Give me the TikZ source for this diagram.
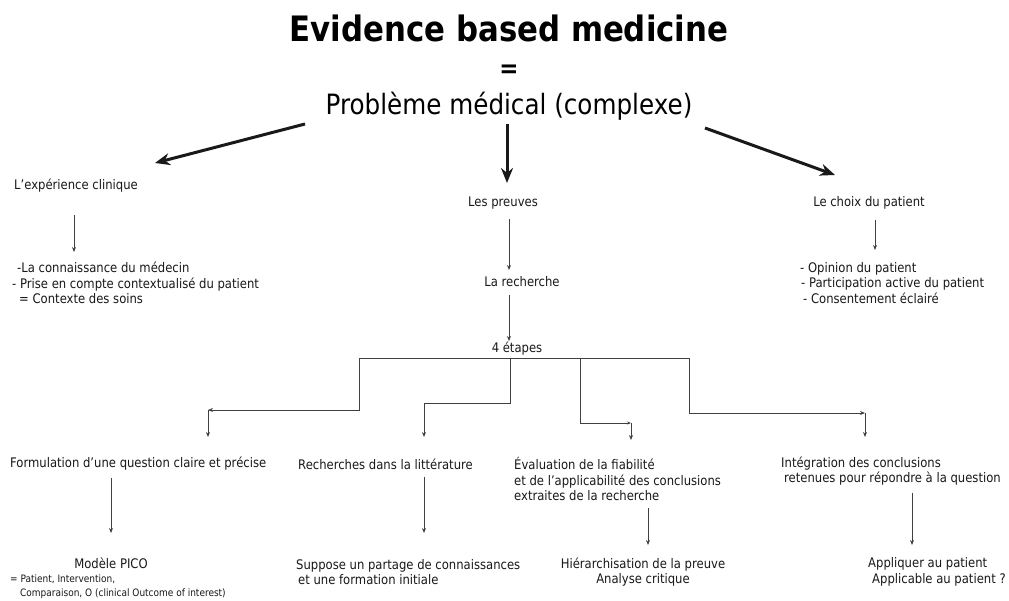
\documentclass[tikz,border=0pt]{standalone}
\usepackage{fontspec}
\setmainfont{DejaVu Sans}[FakeStretch=0.88]
\usetikzlibrary{arrows.meta,positioning}

\begin{document}
\begin{tikzpicture}[x=1pt,y=-1pt,
    txt/.style={inner sep=0pt, font=\fontsize{13.2}{15.5}\selectfont, text=black!90, align=left},
    small/.style={inner sep=0pt, font=\fontsize{10.2}{14}\selectfont, text=black!90, align=left},
    bigarrow/.style={-{Stealth[length=15pt,width=12pt]}, line width=3pt, black!90},
    thinarrow/.style={-{Stealth[length=5pt,width=4pt]}, line width=0.9pt, black!75},
    tree/.style={line width=0.9pt, black!75}
]
\useasboundingbox[fill=white] (0,0) rectangle (1009,600);

% Titre
\node[inner sep=0pt, font=\fontsize{35}{40}\selectfont\bfseries] (ebm) at (509,28) {Evidence based medicine};
\node[inner sep=0pt, font=\fontsize{26}{30}\selectfont\bfseries] (egal) at (509,71) {=};
\node[inner sep=0pt, font=\fontsize{28}{30}\selectfont] (prob) at (509,106) {Problème médical (complexe)};

% Trois piliers
\node[txt, anchor=west] (exp) at (14,186) {L’expérience clinique};
\node[txt] (preuves) at (503,203) {Les preuves};
\node[txt] (choix) at (869,203) {Le choix du patient};

\coordinate (pl) at (305,124);
\coordinate (pm) at (507,124);
\coordinate (pr) at (705,128);
\draw[bigarrow] (pl) -- (155,163);
\draw[bigarrow] (pm) -- (507,183);
\draw[bigarrow] (pr) -- (835,175);

\node[txt, anchor=west] (connais) at (12,283) {\hspace{5pt}-La connaissance du médecin\\- Prise en compte contextualisé du patient\\\hspace{7pt}= Contexte des soins};
\node[txt] (recherche) at (522,282) {La recherche};
\node[txt, anchor=west] (opinion) at (800,283) {- Opinion du patient\\\hspace{1pt}- Participation active du patient\\\hspace{3pt}- Consentement éclairé};

\draw[thinarrow] (exp.south -| 74,0) ++(0,22) -- (74,252);
\draw[thinarrow] (preuves.south -| 509,0) ++(0,10) -- (509,270);
\draw[thinarrow] (choix.south -| 875,0) ++(0,10) -- (875,250);

\node[txt] (etapes) at (517,349) {4 étapes};
\draw[thinarrow] (recherche.south -| 509,0) ++(0,8) -- (509,341);

% Arbre des 4 etapes
\coordinate (hub) at (510,358);
\coordinate (c1) at (208,410);
\coordinate (c2) at (424,403);
\coordinate (c3) at (631,423);
\coordinate (c4) at (865,413);
\draw[tree, -{Stealth[length=5pt,width=4pt]}] (hub) -- (359,358) -- (359,410) -- (c1);
\draw[tree] (hub) -- (510,403) -- (c2);
\draw[tree, -{Stealth[length=4pt,width=3pt]}] (hub) -- (580,358) -- (580,423) -- (c3);
\draw[tree, -{Stealth[length=5pt,width=4pt]}] (580,358) -- (689,358) -- (689,413) -- (c4);
\draw[thinarrow] (c1) -- ++(0,27);
\draw[thinarrow] (c2) -- ++(0,34);
\draw[thinarrow] (c3) -- ++(0,17);
\draw[thinarrow] (c4) -- ++(0,24);

% Etapes
\node[txt, anchor=west] (formul) at (10,464) {Formulation d’une question claire et précise};
\node[txt, anchor=west] (litt) at (298,464) {Recherches dans la littérature};
\node[txt, anchor=west] (eval) at (514,479) {Évaluation de la fiabilité\\et de l’applicabilité des conclusions\\extraites de la recherche};
\node[txt, anchor=west] (integ) at (781,471) {Intégration des conclusions\\\hspace{3pt}retenues pour répondre à la question};

\node[txt] (pico) at (111,563) {Modèle PICO};
\node[small, anchor=west] (picodef) at (10,587) {= Patient, Intervention,\\\hspace{10pt}Comparaison, O (clinical Outcome of interest)};
\node[txt, anchor=west] (suppose) at (296,572) {Suppose un partage de connaissances\\\hspace{2pt}et une formation initiale};
\node[txt, align=center] (hier) at (643,572) {Hiérarchisation de la preuve\\Analyse critique};
\node[txt, anchor=west] (appl) at (868,572) {Appliquer au patient\\\hspace{4pt}Applicable au patient ?};

\draw[thinarrow] (formul.south -| 111,0) ++(0,7) -- (111,533);
\draw[thinarrow] (litt.south -| 424,0) ++(0,7) -- (424,533);
\draw[thinarrow] (eval.south -| 648,0) ++(0,7) -- (648,545);
\draw[thinarrow] (integ.south -| 912,0) ++(0,7) -- (912,545);

\end{tikzpicture}
\end{document}
